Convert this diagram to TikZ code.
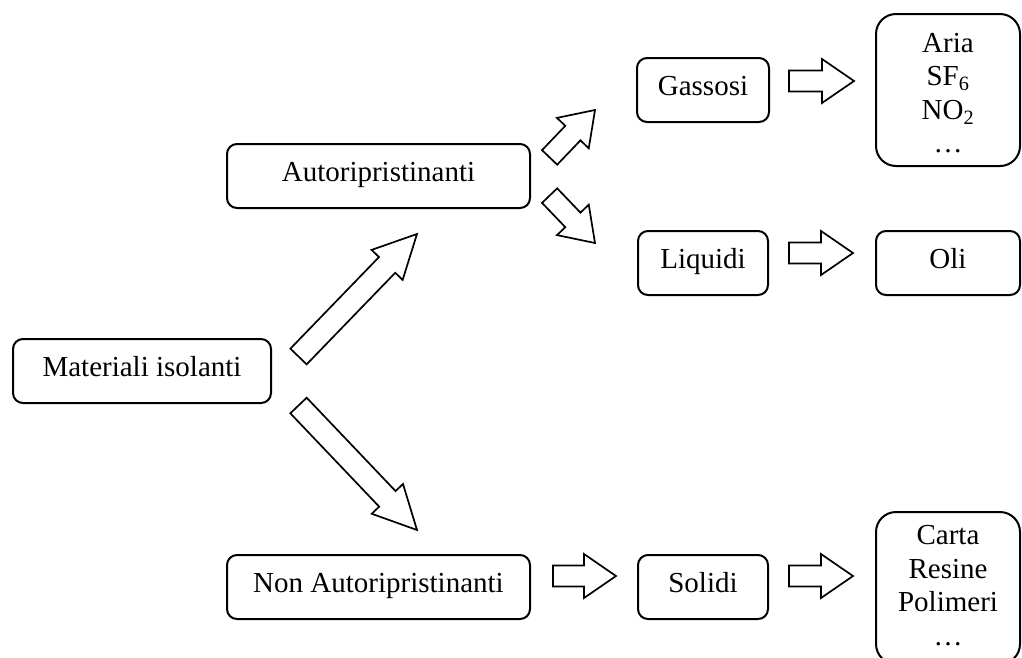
\documentclass[tikz,border=0pt]{standalone}
\usepackage{fontspec}
\setmainfont{Liberation Serif}
\usetikzlibrary{calc}
% #1 tail, #2 tip, #3 head length, #4 shaft half width, #5 head half width
\newcommand{\blockarr}[5]{%
  \coordinate (#1-hb) at ($(#2)!#3!(#1)$);
  \draw[blockarrow] ($(#1)!#4!90:(#2)$) -- ($(#1-hb)!#4!90:(#2)$) -- ($(#1-hb)!#5!90:(#2)$) -- (#2)
    -- ($(#1-hb)!#5!-90:(#2)$) -- ($(#1-hb)!#4!-90:(#2)$) -- ($(#1)!#4!-90:(#2)$) -- cycle;
}
\begin{document}
\begin{tikzpicture}[x=1pt,y=-1pt,
  box/.style={draw, line width=2pt, rounded corners=10pt, minimum height=64pt, inner sep=0pt,
    text height=19pt, text depth=9pt, font=\fontsize{29}{33.5}\selectfont},
  tallbox/.style={draw, line width=2pt, rounded corners=20pt, minimum width=144pt,
    minimum height=152pt, inner sep=0pt},
  lines/.style={align=center, inner sep=0pt, font=\fontsize{29}{33.5}\selectfont, anchor=north},
  blockarrow/.style={draw, line width=1.7pt, line join=miter, fill=white}]
\clip (0,0) rectangle (1022,657);
\fill[white] (0,0) rectangle (1022,657);

\node[box, minimum width=258pt] (mat) at (142,371) {Materiali isolanti};
\node[box, minimum width=303pt] (auto) at (378.5,176) {Autoripristinanti};
\node[box, minimum width=303pt] (nonauto) at (378.5,587) {Non Autoripristinanti};
\node[box, minimum width=132pt] (gas) at (703,90) {Gassosi};
\node[box, minimum width=130pt] (liq) at (703,263) {Liquidi};
\node[box, minimum width=130pt] (sol) at (703,587) {Solidi};
\node[tallbox] (aria) at (948,90) {};
\node[lines] (ariatxt) at (948,32.8) {Aria\\SF\textsubscript{6}\\NO\textsubscript{2}\\…};
\node[box, minimum width=144pt] (oli) at (948,263) {Oli};
\node[tallbox] (carta) at (948,588) {};
\node[lines] (cartatxt) at (948,525.4) {Carta\\Resine\\Polimeri\\…};

\coordinate (a1t) at ($(mat.east)+(26.5,-14.5)$);
\coordinate (a1p) at ($(auto.south)+(38.5,25)$);
\coordinate (a2t) at ($(mat.east)+(26.5,34.5)$);
\coordinate (a2p) at ($(nonauto.north)+(38.5,-24)$);
\coordinate (a3t) at ($(auto.east)+(18.6,-18.6)$);
\coordinate (a3p) at ($(gas.west)+(-41,20)$);
\coordinate (a4t) at ($(auto.east)+(18.6,19.6)$);
\coordinate (a4p) at ($(liq.west)+(-42,-20)$);
\coordinate (a5t) at ($(gas.east)+(19,-9)$);
\coordinate (a5p) at ($(aria.west)+(-21,-9)$);
\coordinate (a6t) at ($(liq.east)+(20,-10)$);
\coordinate (a6p) at ($(oli.west)+(-22,-10)$);
\coordinate (a7t) at ($(nonauto.east)+(22,-11)$);
\coordinate (a7p) at ($(sol.west)+(-21,-11)$);
\coordinate (a8t) at ($(sol.east)+(20,-11)$);
\coordinate (a8p) at ($(carta.west)+(-22,-12)$);

\blockarr{a1t}{a1p}{43pt}{11.3pt}{21.6pt}
\blockarr{a2t}{a2p}{43pt}{11.3pt}{21.6pt}
\blockarr{a3t}{a3p}{32pt}{10.5pt}{22pt}
\blockarr{a4t}{a4p}{32pt}{10.5pt}{22pt}
\blockarr{a5t}{a5p}{32pt}{10.5pt}{22pt}
\blockarr{a6t}{a6p}{32pt}{10.5pt}{22pt}
\blockarr{a7t}{a7p}{32pt}{10.5pt}{22pt}
\blockarr{a8t}{a8p}{32pt}{10.5pt}{22pt}
\end{tikzpicture}
\end{document}
